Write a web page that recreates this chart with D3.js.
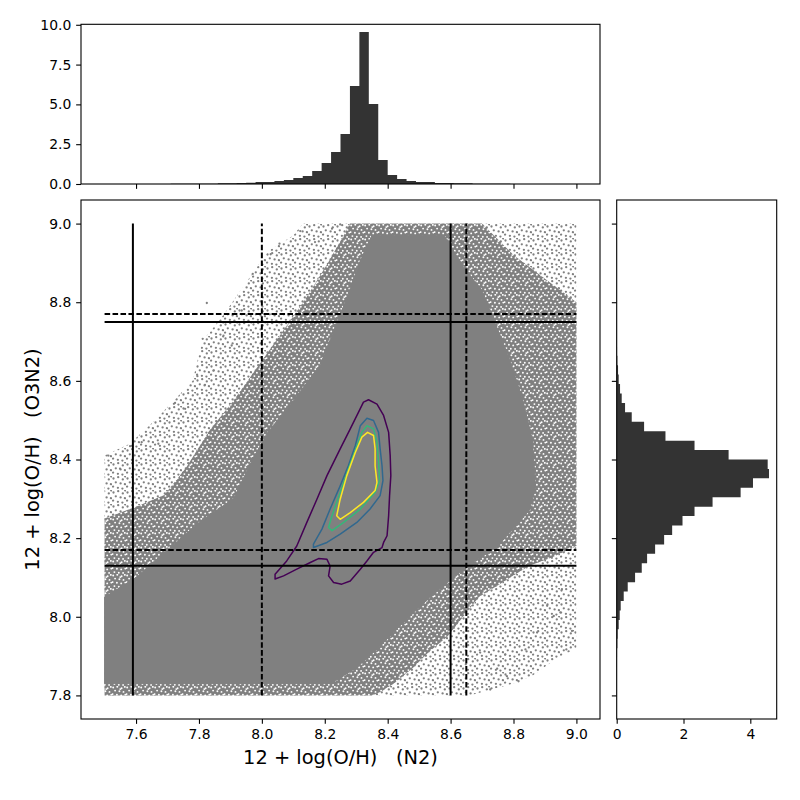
<!DOCTYPE html>
<html><head><meta charset="utf-8">
<script src="https://cdn.jsdelivr.net/npm/d3@7"></script>
<style>body{margin:0;background:#fff} text{font-family:"DejaVu Sans",sans-serif} .lbl{white-space:pre}</style>
</head><body><svg id="c" width="800" height="800" xmlns="http://www.w3.org/2000/svg"></svg>
<script>
// ---------------- DATA ----------------
// marginal histogram of N2 metallicity (density), bins of 0.03 starting at 7.5
const topBinStart = 7.5, topBinWidth = 0.03;
const topHist = [0.004,0.004,0.005,0.005,0.006,0.006,0.007,0.008,0.009,0.010,0.015,0.020,
  0.04,0.05,0.06,0.08,0.12,0.13,0.19,0.25,0.38,0.50,0.82,1.32,2.01,3.14,6.16,9.55,5.03,1.51,
  0.57,0.31,0.19,0.13,0.12,0.07,0.06,0.05,0.04,
  0.02,0.015,0.01,0.008,0.006,0.005,0.004,0.004,0.003,0.003,0.003];
// marginal histogram of O3N2 metallicity (density), bins of 0.024 starting at 7.8
const rightBinStart = 7.8, rightBinWidth = 0.024;
const rightHist = [0.004,0.005,0.006,0.008,0.010,0.020,
  0.03,0.06,0.09,0.12,0.21,0.33,0.55,0.75,0.91,1.15,1.42,1.66,1.97,2.33,2.87,3.71,4.08,4.56,4.52,
  3.35,2.33,1.46,0.82,0.45,0.25,0.15,0.10,0.06,0.04,0.02,
  0.010,0.008,0.006,0.005,0.004,0.003,0.003,0.002,0.002,0.002,0.002,0.002,0.002,0.002];

// scatter cloud density envelopes (N2, O3N2)
const coreEnvelope = [[7.50,7.83],[7.50,8.05],[7.60,8.10],[7.70,8.17],[7.80,8.24],[7.91,8.30],[7.97,8.40],[8.02,8.47],
  [8.10,8.55],[8.185,8.64],[8.23,8.73],[8.27,8.81],[8.31,8.90],[8.35,8.97],[8.58,8.97],[8.64,8.89],[8.70,8.83],
  [8.74,8.75],[8.79,8.65],[8.83,8.55],[8.86,8.45],[8.87,8.33],[8.85,8.27],[8.75,8.18],[8.64,8.12],[8.535,8.05],
  [8.43,7.97],[8.376,7.925],[8.30,7.87],[8.22,7.83]];
const fringeEnvelope = [[7.50,7.80],[7.50,8.25],[7.60,8.28],[7.69,8.31],[7.76,8.38],[7.83,8.47],[7.91,8.55],[7.99,8.64],
  [8.07,8.73],[8.14,8.81],[8.21,8.90],[8.26,8.97],[8.28,9.00],[8.70,9.00],[8.80,8.92],[8.90,8.86],[9.00,8.80],
  [9.00,8.18],[8.92,8.15],[8.85,8.13],[8.77,8.09],[8.69,8.05],[8.64,8.00],[8.59,7.95],[8.53,7.91],[8.48,7.87],
  [8.42,7.83],[8.38,7.81],[8.35,7.80]];
const haloEnvelope = [[7.50,7.80],[7.50,8.41],[7.58,8.44],[7.66,8.50],[7.72,8.55],[7.78,8.60],[7.81,8.70],[7.88,8.77],
  [7.95,8.85],[8.02,8.93],[8.10,8.97],[8.13,9.00],[9.00,9.00],[9.00,7.92],[8.93,7.89],[8.86,7.85],[8.80,7.83],
  [8.73,7.815],[8.66,7.80]];
// isolated outlying galaxies
const outliersX = [7.825,7.812,7.971,7.936,7.878,7.904,7.795,7.819,7.846,8.028,7.512,7.549,7.581,7.618,7.671,7.724,7.756,
  8.056,8.122,8.169,8.223,8.249,8.968,8.986,8.928,8.875,8.816,8.779,8.726,8.748,8.838,8.907,8.949,8.954,8.774,8.694];
const outliersY = [8.798,8.707,8.872,8.779,8.715,8.690,8.612,8.590,8.626,8.922,8.410,8.377,8.434,8.444,8.440,8.544,8.529,
  8.949,8.981,8.953,8.987,8.998,7.917,7.964,8.002,7.960,7.836,7.849,7.815,7.868,7.917,8.028,8.011,8.070,7.904,7.909];

// density contours (4 levels)
const contour1 = [[8.339,8.552],[8.366,8.541],[8.387,8.512],[8.403,8.469],[8.408,8.410],[8.410,8.359],[8.406,8.308],
  [8.403,8.257],[8.398,8.206],[8.387,8.189],[8.382,8.176],[8.355,8.164],[8.334,8.142],[8.313,8.121],[8.281,8.091],
  [8.254,8.083],[8.228,8.087],[8.212,8.104],[8.217,8.129],[8.207,8.146],[8.180,8.148],[8.154,8.138],[8.111,8.121],
  [8.069,8.104],[8.042,8.096],[8.042,8.108],[8.079,8.142],[8.111,8.180],[8.143,8.240],[8.175,8.299],[8.207,8.359],
  [8.249,8.427],[8.281,8.478],[8.307,8.520],[8.323,8.546]];
const contour2 = [[8.334,8.505],[8.355,8.499],[8.371,8.469],[8.376,8.427],[8.382,8.384],[8.385,8.346],[8.376,8.308],
  [8.344,8.274],[8.302,8.240],[8.249,8.210],[8.207,8.189],[8.164,8.176],[8.164,8.185],[8.191,8.223],[8.217,8.274],
  [8.249,8.333],[8.275,8.384],[8.297,8.435],[8.313,8.486]];
const contour3 = [[8.334,8.486],[8.355,8.478],[8.366,8.444],[8.371,8.393],[8.374,8.346],[8.360,8.316],[8.313,8.274],
  [8.260,8.240],[8.223,8.219],[8.212,8.227],[8.223,8.257],[8.249,8.316],[8.275,8.376],[8.302,8.435],[8.318,8.469]];
const contour4 = [[8.336,8.469],[8.355,8.461],[8.360,8.427],[8.360,8.384],[8.366,8.342],[8.360,8.321],[8.323,8.291],
  [8.281,8.265],[8.249,8.248],[8.238,8.257],[8.249,8.299],[8.270,8.359],[8.297,8.418],[8.318,8.457]];
const contourColors = ["#440154","#31688e","#35b779","#fde725"];

// reference metallicity lines
const vSolid = [7.59, 8.60], vDashed = [8.00, 8.65];
const hSolid = [8.13, 8.75], hDashed = [8.17, 8.77];
const lineXRange = [7.5, 9.0], lineYRange = [7.8, 9.0];

// ticks
const mainXTicks = [7.6,7.8,8.0,8.2,8.4,8.6,8.8,9.0];
const mainYTicks = [7.8,8.0,8.2,8.4,8.6,8.8,9.0];
const topYTicks = [0,2.5,5,7.5,10];
const rightXTicks = [0,2,4];
const xLabel = "12 + log(O/H)   (N2)";
const yLabel = "12 + log(O/H)   (O3N2)";

// ---------------- DRAW ----------------
const svg = d3.select("#c");
const M = {l:81, r:600, t:200, b:719};
const T = {t:24.3, b:184};
const R = {l:616.7, r:776.7};
const x = d3.scaleLinear().domain([7.425, 9.075]).range([M.l, M.r]);
const y = d3.scaleLinear().domain([7.74, 9.06]).range([M.b, M.t]);
const yTop = d3.scaleLinear().domain([0, 10.03]).range([T.b, T.t]);
const xRight = d3.scaleLinear().domain([0, 4.79]).range([R.l, R.r]);
const grey = "#808080", histC = "#333333";
const TL = 4.86, TP = 4.86, FS = 13.9;

// speckle textures for the less dense parts of the scatter cloud
const defs = svg.append("defs");
const pd = defs.append("pattern").attr("id","pDense").attr("patternUnits","userSpaceOnUse").attr("width",14).attr("height",14);
pd.append("rect").attr("width",14).attr("height",14).attr("fill",grey);
[[1.2,1.5],[5.3,0.8],[9.6,2.2],[12.8,0.9],[3.1,4.6],[7.4,5.2],[11.5,5.9],[0.6,8.1],[4.9,8.8],[9.2,9.4],[13.3,8.6],
 [2.4,12.1],[6.8,12.7],[11.1,12.9],[8.3,3.1]].forEach(p=>
  pd.append("circle").attr("cx",p[0]).attr("cy",p[1]).attr("r",0.95).attr("fill","#fff"));
const ps = defs.append("pattern").attr("id","pSparse").attr("patternUnits","userSpaceOnUse").attr("width",14).attr("height",14);
[[1.5,2.5],[6.2,1.2],[10.8,3.4],[3.8,6.3],[8.6,7.4],[12.9,8.2],[1.1,10.6],[5.9,11.8],[10.4,12.6],[13.2,0.4]].forEach(p=>
  ps.append("circle").attr("cx",p[0]).attr("cy",p[1]).attr("r",1.15).attr("fill",grey));
defs.append("clipPath").attr("id","mainClip").append("rect").attr("x",M.l).attr("y",M.t).attr("width",M.r-M.l).attr("height",M.b-M.t);

const line = d3.line().x(d=>x(d[0])).y(d=>y(d[1]));
const closed = pts => line(pts) + "Z";
const gMain = svg.append("g").attr("clip-path","url(#mainClip)");
gMain.append("path").attr("d",closed(haloEnvelope)).attr("fill","url(#pSparse)");
gMain.append("path").attr("d",closed(fringeEnvelope)).attr("fill","url(#pDense)");
gMain.append("path").attr("d",closed(coreEnvelope)).attr("fill",grey).attr("stroke",grey).attr("stroke-width",1);
gMain.selectAll("circle.o").data(outliersX.map((v,i)=>[v,outliersY[i]])).join("circle")
  .attr("cx",d=>x(d[0])).attr("cy",d=>y(d[1])).attr("r",1.15).attr("fill",grey);

// contours
[contour1,contour2,contour3,contour4].forEach((c,i)=>{
  gMain.append("path").attr("d",closed(c)).attr("fill","none").attr("stroke",contourColors[i]).attr("stroke-width",1.5).attr("stroke-linejoin","round");
});

// reference lines
const drawV = (vals, dash) => vals.forEach(v=>gMain.append("line").attr("x1",x(v)).attr("x2",x(v))
  .attr("y1",y(lineYRange[0])).attr("y2",y(lineYRange[1])).attr("stroke","#000").attr("stroke-width",2).attr("stroke-dasharray",dash));
const drawH = (vals, dash) => vals.forEach(v=>gMain.append("line").attr("y1",y(v)).attr("y2",y(v))
  .attr("x1",x(lineXRange[0])).attr("x2",x(lineXRange[1])).attr("stroke","#000").attr("stroke-width",2).attr("stroke-dasharray",dash));
drawV(vSolid,null); drawV(vDashed,"5.55,2.4"); drawH(hSolid,null); drawH(hDashed,"5.55,2.4");

// top histogram (step area through the bins)
const topPts = topHist.map((v,i)=>({e:topBinStart+i*topBinWidth, v}));
topPts.push({e:topBinStart+topHist.length*topBinWidth, v:topHist[topHist.length-1]});
svg.append("path").attr("fill",histC)
  .attr("d", d3.area().x(d=>x(d.e)).y0(T.b).y1(d=>yTop(d.v)).curve(d3.curveStepAfter)(topPts));
// right histogram (bin i spans [e_i, e_{i+1}] with width v_i)
const rightPts = rightHist.map((v,i)=>({e:rightBinStart+i*rightBinWidth, v}));
rightPts.push({e:rightBinStart+rightHist.length*rightBinWidth, v:rightHist[rightHist.length-1]});
svg.append("path").attr("fill",histC)
  .attr("d", d3.area().y(d=>y(d.e)).x0(R.l).x1(d=>xRight(d.v)).curve(d3.curveStepBefore)(rightPts));

// axes
function styleAxis(g){
  g.select(".domain").remove();
  g.selectAll(".tick line").attr("stroke","#000").attr("stroke-width",1.1);
  g.selectAll(".tick text").attr("fill","#000").attr("font-size",FS).attr("font-family","DejaVu Sans");
}
svg.append("g").attr("transform",`translate(0,${M.b})`).call(d3.axisBottom(x).tickValues(mainXTicks).tickFormat(d3.format(".1f")).tickSize(TL).tickPadding(TP)).call(styleAxis);
svg.append("g").attr("transform",`translate(${M.l},0)`).call(d3.axisLeft(y).tickValues(mainYTicks).tickFormat(d3.format(".1f")).tickSize(TL).tickPadding(TP)).call(styleAxis);
svg.append("g").attr("transform",`translate(0,${T.b})`).call(d3.axisBottom(x).tickValues(mainXTicks).tickFormat("").tickSize(TL)).call(styleAxis);
svg.append("g").attr("transform",`translate(${M.l},0)`).call(d3.axisLeft(yTop).tickValues(topYTicks).tickFormat(d3.format(".1f")).tickSize(TL).tickPadding(TP)).call(styleAxis);
svg.append("g").attr("transform",`translate(${R.l},0)`).call(d3.axisLeft(y).tickValues(mainYTicks).tickFormat("").tickSize(TL)).call(styleAxis);
svg.append("g").attr("transform",`translate(0,${M.b})`).call(d3.axisBottom(xRight).tickValues(rightXTicks).tickFormat(d3.format("d")).tickSize(TL).tickPadding(TP)).call(styleAxis);

// spines
const spine = (x0,y0,x1,y1)=>svg.append("rect").attr("x",x0).attr("y",y0).attr("width",x1-x0).attr("height",y1-y0)
  .attr("fill","none").attr("stroke","#000").attr("stroke-width",1.1);
spine(M.l,M.t,M.r,M.b); spine(M.l,T.t,M.r,T.b); spine(R.l,M.t,R.r,M.b);

// labels
svg.append("text").attr("class","lbl").attr("xml:space","preserve").attr("x",(M.l+M.r)/2).attr("y",764).attr("text-anchor","middle").attr("font-size",19.4).attr("fill","#000").text(xLabel);
svg.append("text").attr("class","lbl").attr("xml:space","preserve").attr("transform",`translate(39,${(M.t+M.b)/2}) rotate(-90)`).attr("text-anchor","middle").attr("font-size",19.4).attr("fill","#000").text(yLabel);
</script></body></html>
